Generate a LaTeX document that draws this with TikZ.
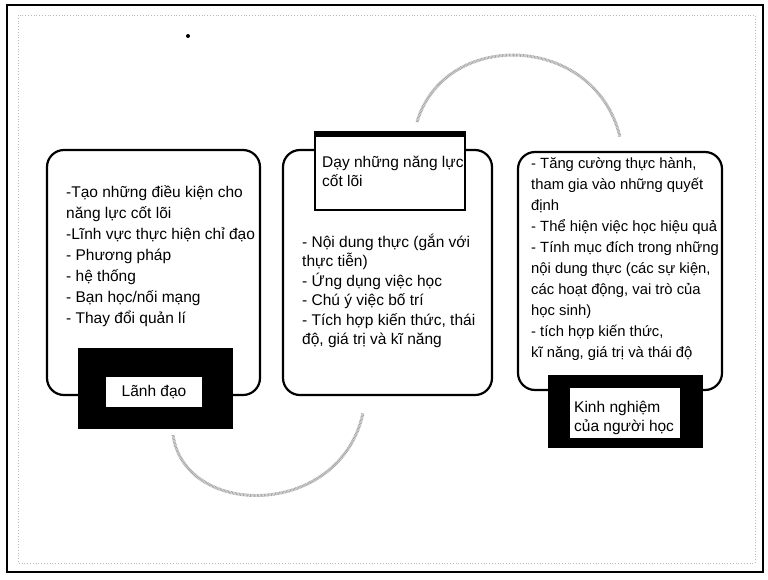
\documentclass[tikz,border=0pt]{standalone}
\usepackage{fontspec}
\setmainfont{Liberation Sans}
\begin{document}
\begin{tikzpicture}[x=1pt,y=-1pt]
\tikzset{
  bigbox/.style={draw=black, line width=2.2pt, rounded corners=17pt, fill=white, inner sep=0pt},
  blackbox/.style={fill=black, draw=black, inner sep=0pt},
  whitebox/.style={fill=white, draw=none, inner sep=0pt},
  headbox/.style={fill=white, draw=black, line width=2.6pt, inner sep=0pt},
  txt/.style={anchor=north west, inner sep=0pt, align=left, font=\fontsize{15.5}{21}\selectfont},
  htxt/.style={anchor=north west, inner sep=0pt, align=left, font=\fontsize{15.5}{19}\selectfont},
  arcline/.style={draw=gray!70, line width=3pt, dash pattern=on 0.8pt off 0.6pt},
}
\useasboundingbox (0,0) rectangle (768,579);
% frames
\draw[line width=2pt] (7,5) rectangle (763,572);
\draw[gray!55, dotted, line width=0.8pt] (18,15) rectangle (755,563);
\fill (188,36) circle (2pt);

% arcs
\coordinate (a1) at (417,122);
\coordinate (a2) at (620,137);
\coordinate (b1) at (173,435);
\coordinate (b2) at (363,413);
\draw[arcline] (a1) .. controls (445,28) and (595,33) .. (a2);
\draw[arcline] (b1) .. controls (185,519) and (340,519) .. (b2);

% big boxes
\node[bigbox, minimum width=213pt, minimum height=245pt] (lbox) at (153.5,272.5) {};
\node[bigbox, minimum width=209pt, minimum height=245pt] (mbox) at (387.5,272.5) {};
\node[bigbox, minimum width=204pt, minimum height=238pt] (rbox) at (620,271) {};

% left: Lanh dao
\node[blackbox, minimum width=154pt, minimum height=80pt] (lblack) at (155,388) {};
\node[whitebox, minimum width=96pt, minimum height=30pt, font=\fontsize{15.5}{19}\selectfont] (lwhite) at (154,392) {Lãnh đạo};

% right: Kinh nghiem
\node[blackbox, minimum width=154pt, minimum height=72pt] (rblack) at (625,411) {};
\node[whitebox, minimum width=110pt, minimum height=50pt] (rwhite) at (625,413) {};
\node[htxt] (rwtext) at (574,398.7) {\strut Kinh nghiệm\\của người học};

% middle header
\node[headbox, minimum width=150pt, minimum height=78pt] (mhead) at (390,171) {};
\fill (mhead.north west) rectangle ([yshift=-6pt]mhead.north east);
\node[htxt] (mhtext) at (322,153.7) {\strut Dạy những năng lực\\cốt lõi};

% texts
\node[txt] (ltext) at (66,182.3) {\strut -Tạo những điều kiện cho\\năng lực cốt lõi\\-Lĩnh vực thực hiện chỉ đạo\\- Phương pháp\\- hệ thống\\- Bạn học/nối mạng\\- Thay đổi quản lí};
\node[txt, font=\fontsize{15.5}{19.5}\selectfont] (mtext) at (302,233.3) {\strut - Nội dung thực (gắn với\\thực tiễn)\\- Ứng dụng việc học\\- Chú ý việc bố trí\\- Tích hợp kiến thức, thái\\độ, giá trị và kĩ năng};
\node[txt, font=\fontsize{14.8}{21}\selectfont] (rtext) at (531,153.3) {\strut - Tăng cường thực hành,\\tham gia vào những quyết\\định\\- Thể hiện việc học hiệu quả\\- Tính mục đích trong những\\nội dung thực (các sự kiện,\\các hoạt  động, vai trò của\\học  sinh)\\- tích hợp kiến thức,\\kĩ năng, giá trị và thái độ};
\end{tikzpicture}
\end{document}
